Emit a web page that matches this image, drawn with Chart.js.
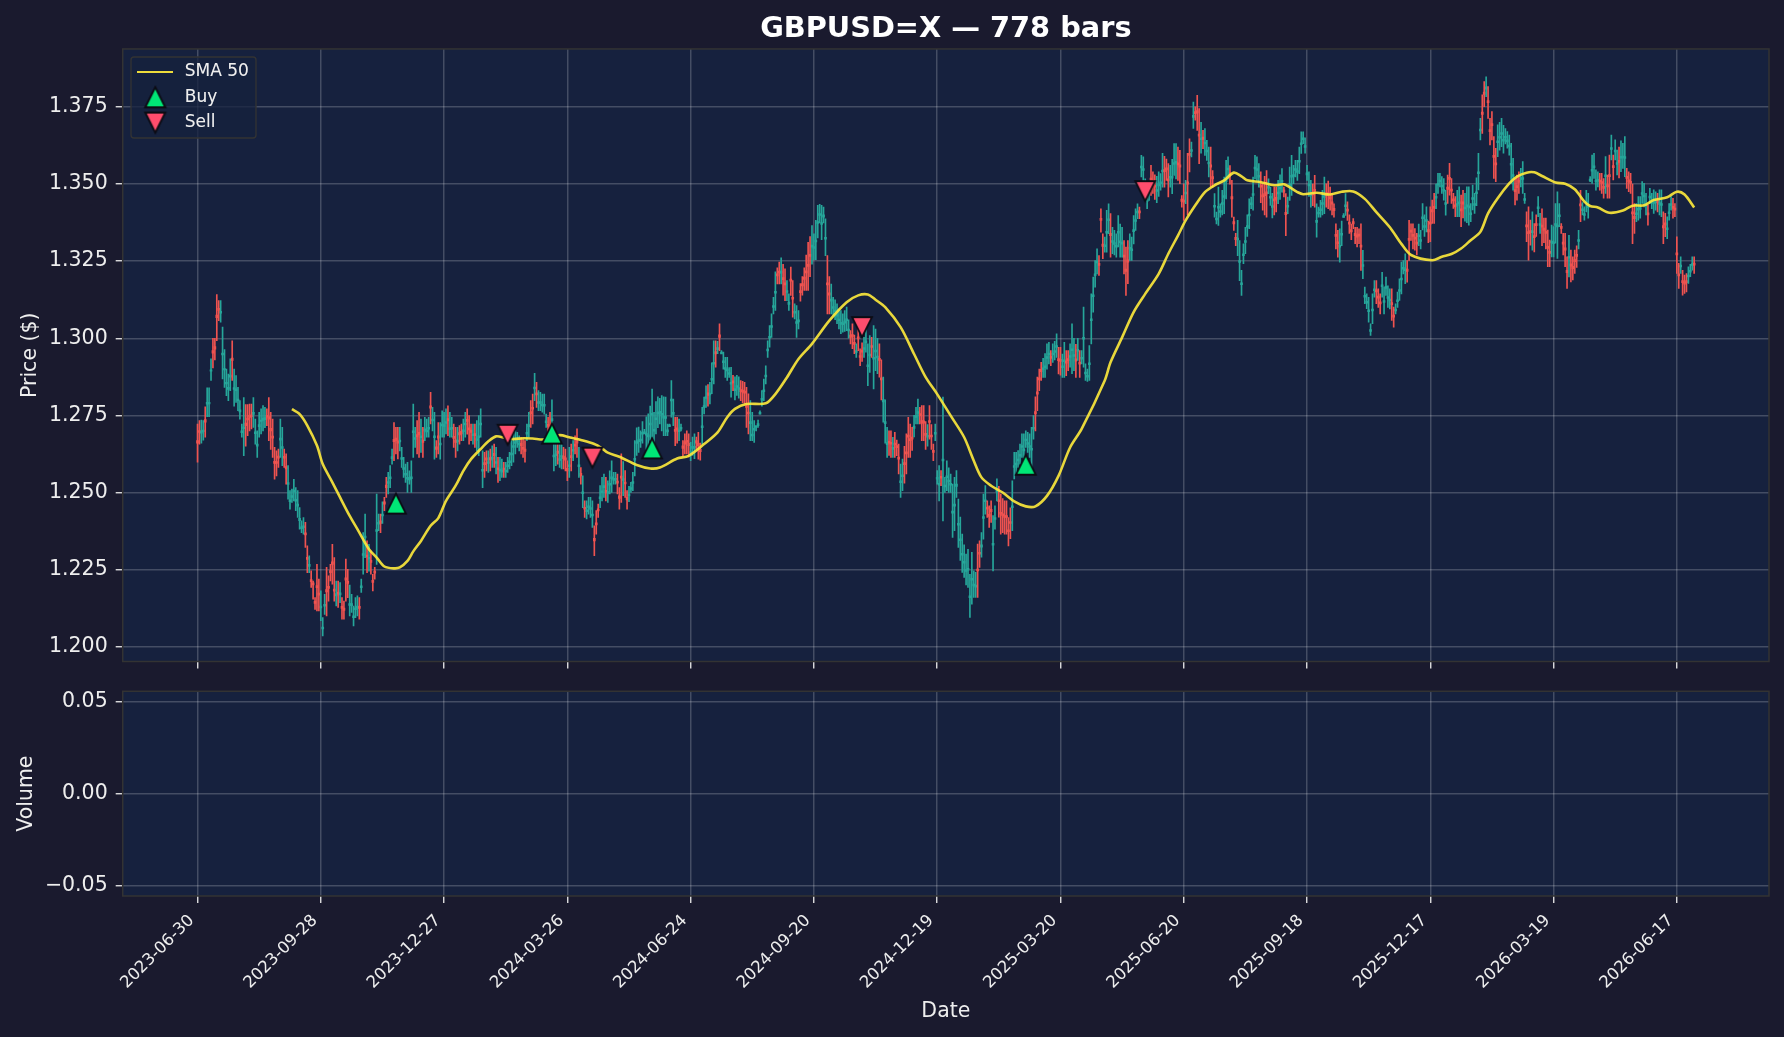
<!DOCTYPE html>
<html>
<head>
<meta charset="utf-8">
<title>GBPUSD=X</title>
<script src="https://cdn.jsdelivr.net/npm/chart.js@4"></script>
<style>
    html, body { margin: 0; padding: 0; background: #1a1a2e; }
    canvas { position: absolute; left: 0; }
    #chartPrice { top: 0; }
    #chartVolume { top: 671px; }
</style>
</head>
<body>
<canvas id="chartPrice" width="1784" height="690"></canvas>
<canvas id="chartVolume" width="1784" height="366"></canvas>
<script>
// prices are in 1/10000 of a dollar (pips)
const highs = [
12722,12733,12735,12733,12778,12839,12839,12933,13000,13000,13142,13122,13122,13036,12963,12900,12884,12933,12992,12900,
12879,12841,12798,12722,12808,12785,12785,12787,12787,12808,12738,12700,12760,12771,12782,12776,12771,12808,12760,12738,
12646,12635,12641,12738,12711,12641,12625,12587,12506,12511,12543,12516,12506,12451,12408,12419,12403,12327,12295,12246,
12213,12159,12267,12219,12181,12094,12170,12257,12230,12267,12332,12289,12213,12213,12208,12159,12148,12284,12251,12200,
12170,12132,12159,12165,12159,12219,12370,12430,12343,12332,12311,12235,12257,12495,12430,12430,12470,12484,12549,12565,
12587,12641,12727,12711,12711,12711,12646,12614,12592,12598,12570,12603,12787,12711,12733,12760,12738,12711,12744,12738,
12744,12825,12776,12760,12668,12727,12727,12765,12760,12771,12781,12760,12744,12722,12711,12711,12717,12722,12738,12760,
12771,12749,12722,12722,12722,12733,12749,12771,12635,12630,12635,12635,12641,12651,12657,12646,12614,12614,12608,12598,
12598,12614,12630,12668,12706,12700,12695,12684,12679,12673,12668,12722,12760,12798,12819,12886,12857,12830,12825,12819,
12819,12754,12744,12760,12800,12673,12668,12662,12657,12657,12646,12641,12603,12646,12657,12668,12684,12706,12646,12581,
12554,12473,12473,12484,12484,12473,12392,12441,12462,12522,12549,12560,12549,12538,12570,12603,12565,12565,12560,12516,
12625,12600,12571,12506,12520,12533,12565,12668,12710,12712,12700,12730,12705,12745,12755,12780,12835,12760,12795,12810,
12805,12814,12810,12809,12722,12722,12863,12803,12744,12744,12738,12722,12668,12690,12700,12690,12663,12680,12690,12680,
12695,12660,12776,12809,12846,12850,12857,12920,12992,12992,12990,13047,12960,12955,12938,12938,12905,12906,12880,12875,
12880,12875,12863,12860,12857,12841,12820,12798,12760,12733,12711,12735,12755,12830,12868,12911,12992,13041,13079,13133,
13215,13228,13247,13261,13240,13225,13187,13144,13231,13187,13112,13106,13090,13177,13200,13228,13270,13311,13330,13365,
13339,13382,13431,13434,13431,13425,13387,13268,13200,13176,13133,13125,13112,13095,13090,13079,13090,13101,13060,13025,
13047,13010,12982,13036,12966,12985,13003,13030,12982,13009,13003,13041,13030,13000,12982,12930,12874,12800,12711,12700,
12700,12679,12695,12670,12657,12592,12608,12650,12690,12744,12722,12711,12750,12776,12803,12776,12782,12782,12730,12720,
12782,12720,12657,12722,12571,12587,12571,12809,12549,12603,12580,12560,12527,12549,12571,12479,12420,12365,12330,12300,
12316,12235,12306,12246,12241,12333,12343,12370,12495,12522,12473,12457,12473,12425,12457,12544,12520,12495,12480,12473,
12473,12419,12450,12538,12630,12630,12636,12657,12690,12690,12700,12695,12690,12711,12749,12810,12874,12900,12922,12935,
12950,12982,12987,12960,12982,12990,13014,12971,12971,12949,12987,12960,12960,12982,13047,13000,12980,13000,12960,12960,
13101,12917,12900,12976,13144,13198,13252,13290,13268,13420,13339,13328,13415,13436,13404,13360,13350,13339,13398,13370,
13360,13317,13296,13317,13339,13328,13398,13420,13436,13425,13593,13588,13517,13480,13501,13561,13540,13530,13525,13540,
13534,13600,13590,13581,13566,13561,13580,13631,13631,13620,13609,13463,13500,13512,13600,13647,13636,13766,13750,13788,
13745,13700,13674,13680,13642,13620,13620,13544,13469,13409,13490,13436,13480,13523,13577,13588,13560,13512,13393,13340,
13382,13317,13220,13306,13360,13400,13452,13458,13523,13593,13588,13566,13540,13501,13525,13544,13517,13490,13470,13490,
13490,13512,13530,13550,13490,13469,13458,13555,13593,13561,13577,13577,13620,13669,13669,13650,13561,13540,13512,13500,
13528,13436,13425,13447,13480,13523,13501,13510,13490,13470,13436,13371,13350,13355,13380,13404,13469,13442,13400,13370,
13388,13360,13360,13355,13371,13285,13166,13144,13133,13047,13144,13187,13187,13160,13144,13214,13166,13198,13170,13160,
13160,13101,13112,13150,13193,13247,13252,13274,13252,13382,13371,13371,13356,13340,13370,13350,13437,13400,13426,13380,
13426,13448,13470,13500,13535,13535,13524,13518,13480,13529,13567,13518,13470,13459,13480,13491,13464,13480,13470,13491,
13491,13437,13497,13470,13520,13600,13713,13789,13832,13848,13816,13713,13735,13654,13616,13692,13700,13713,13690,13680,
13670,13659,13632,13583,13518,13529,13540,13551,13573,13470,13410,13426,13383,13410,13372,13400,13459,13405,13420,13390,
13390,13351,13318,13367,13362,13437,13475,13437,13372,13340,13340,13264,13334,13286,13264,13286,13300,13350,13480,13440,
13426,13480,13470,13524,13594,13600,13546,13540,13535,13535,13518,13589,13529,13594,13659,13594,13643,13610,13620,13640,
13632,13654,13551,13540,13535,13500,13437,13437,13459,13459,13508,13502,13470,13432,13486,13470,13481,13475,13470,13481,
13481,13410,13405,13394,13437,13459,13454,13437,13329,13243,13264,13220,13205,13210,13232,13240,13264,13264
];
const lows = [
12598,12657,12660,12670,12679,12746,12746,12863,12904,12930,12992,13057,13052,12868,12841,12814,12798,12830,12863,12780,
12792,12765,12738,12679,12619,12650,12684,12700,12706,12711,12657,12614,12679,12690,12700,12710,12717,12668,12640,12614,
12543,12554,12581,12614,12587,12581,12527,12478,12446,12468,12473,12441,12419,12381,12370,12365,12322,12240,12240,12192,
12154,12121,12116,12116,12084,12035,12105,12100,12148,12213,12203,12148,12132,12127,12143,12089,12089,12148,12159,12100,
12111,12067,12094,12100,12089,12176,12235,12289,12240,12245,12235,12181,12219,12267,12376,12370,12400,12441,12484,12495,
12516,12592,12603,12625,12609,12635,12581,12549,12533,12500,12527,12500,12614,12646,12625,12614,12630,12614,12668,12679,
12679,12722,12700,12608,12614,12625,12608,12679,12679,12690,12684,12679,12679,12646,12614,12635,12657,12668,12668,12679,
12689,12657,12668,12657,12646,12635,12619,12679,12516,12549,12570,12565,12570,12581,12581,12560,12533,12538,12549,12549,
12549,12565,12576,12587,12598,12625,12646,12635,12625,12614,12598,12668,12679,12711,12722,12798,12776,12765,12765,12760,
12754,12711,12684,12679,12679,12570,12587,12592,12581,12576,12576,12570,12538,12549,12570,12603,12625,12614,12549,12527,
12451,12419,12414,12430,12419,12387,12295,12365,12419,12451,12473,12484,12473,12468,12495,12500,12527,12527,12495,12446,
12468,12490,12484,12446,12470,12500,12506,12554,12620,12630,12646,12660,12690,12640,12620,12670,12679,12650,12690,12710,
12722,12700,12684,12684,12684,12717,12744,12717,12652,12660,12668,12700,12619,12625,12625,12615,12603,12620,12610,12640,
12608,12605,12657,12755,12776,12780,12787,12820,12852,12906,12950,12960,12950,12900,12873,12863,12873,12809,12830,12800,
12815,12806,12798,12790,12787,12711,12690,12668,12668,12662,12700,12711,12765,12780,12798,12852,12938,12971,13003,13079,
13090,13176,13176,13176,13140,13122,13122,13090,13139,13068,13063,13003,13030,13120,13140,13155,13155,13155,13200,13240,
13255,13255,13325,13374,13320,13374,13268,13079,13079,13079,13074,13060,13047,13030,13015,13020,13022,13025,13000,12982,
12966,12950,12938,12960,12911,12925,12938,12955,12846,12889,12938,12836,12895,12885,12874,12800,12728,12660,12614,12620,
12614,12614,12614,12619,12560,12484,12506,12530,12560,12614,12614,12636,12680,12722,12722,12722,12668,12668,12640,12650,
12673,12640,12603,12668,12527,12473,12522,12408,12500,12506,12500,12500,12354,12376,12484,12322,12280,12241,12225,12200,
12192,12095,12138,12160,12160,12160,12257,12290,12349,12430,12419,12387,12403,12246,12381,12473,12420,12365,12370,12365,
12365,12327,12350,12376,12544,12560,12581,12592,12614,12592,12646,12630,12614,12576,12673,12700,12765,12830,12863,12873,
12873,12900,12917,12911,12922,12930,12938,12884,12880,12873,12873,12879,12895,12906,12885,12895,12873,12928,12873,12917,
12906,12863,12860,12863,12982,13085,13166,13209,13204,13344,13258,13279,13279,13339,13263,13274,13270,13263,13296,13263,
13263,13209,13139,13177,13252,13252,13306,13350,13388,13388,13523,13512,13458,13420,13447,13463,13470,13450,13440,13460,
13480,13490,13490,13512,13458,13490,13469,13528,13517,13512,13501,13425,13382,13436,13400,13539,13588,13680,13707,13674,
13566,13600,13615,13593,13577,13523,13490,13490,13393,13371,13366,13393,13400,13404,13452,13517,13500,13393,13350,13300,
13268,13187,13139,13242,13274,13330,13355,13420,13415,13517,13512,13490,13440,13415,13400,13393,13469,13431,13390,13400,
13410,13436,13450,13474,13458,13333,13404,13447,13463,13501,13523,13512,13534,13599,13631,13600,13512,13460,13425,13430,
13425,13328,13393,13393,13400,13404,13425,13420,13415,13400,13393,13290,13263,13247,13300,13393,13398,13382,13340,13320,
13355,13307,13296,13307,13220,13193,13112,13096,13052,13009,13047,13133,13112,13100,13079,13133,13079,13139,13100,13095,
13058,13036,13079,13100,13123,13144,13209,13177,13182,13252,13317,13290,13286,13270,13300,13290,13351,13330,13345,13310,
13313,13372,13372,13420,13470,13491,13470,13448,13399,13437,13464,13437,13421,13394,13394,13394,13362,13390,13380,13375,
13367,13378,13416,13405,13430,13481,13643,13664,13751,13783,13713,13627,13643,13518,13508,13589,13610,13621,13600,13630,
13616,13594,13502,13480,13432,13448,13470,13491,13470,13437,13313,13253,13302,13286,13280,13330,13394,13340,13300,13310,
13290,13232,13232,13264,13264,13308,13259,13362,13340,13270,13232,13162,13199,13183,13189,13210,13230,13290,13378,13400,
13383,13410,13389,13508,13502,13518,13480,13491,13480,13470,13454,13470,13454,13454,13578,13513,13578,13530,13520,13540,
13551,13524,13486,13475,13470,13307,13340,13378,13383,13389,13437,13426,13400,13367,13437,13420,13405,13415,13410,13400,
13394,13307,13329,13323,13383,13415,13389,13394,13210,13162,13210,13140,13145,13150,13178,13200,13221,13210
];
const closes = [
12660,12695,12698,12702,12728,12792,12792,12898,12952,12965,13067,13090,13087,12952,12902,12857,12841,12881,12928,12840,
12836,12803,12768,12700,12713,12717,12735,12743,12746,12760,12697,12657,12720,12735,12741,12743,12744,12738,12700,12676,
12594,12594,12611,12676,12649,12611,12576,12532,12476,12490,12508,12478,12462,12416,12389,12392,12362,12283,12267,12211,
12200,12140,12191,12167,12132,12064,12137,12178,12189,12240,12267,12180,12172,12170,12175,12124,12118,12216,12205,12140,
12140,12100,12126,12132,12124,12197,12302,12359,12291,12290,12273,12208,12238,12380,12403,12400,12430,12462,12516,12535,
12551,12616,12665,12668,12660,12670,12613,12581,12562,12549,12548,12551,12700,12678,12680,12687,12684,12662,12706,12702,
12711,12773,12738,12684,12640,12676,12660,12722,12720,12730,12732,12710,12711,12675,12662,12670,12687,12690,12703,12725,
12730,12703,12695,12690,12684,12675,12684,12725,12575,12590,12605,12600,12605,12615,12619,12600,12574,12576,12573,12573,
12573,12590,12603,12628,12652,12665,12670,12660,12652,12640,12633,12695,12720,12755,12770,12842,12816,12795,12795,12787,
12786,12732,12714,12710,12740,12621,12625,12627,12610,12620,12610,12605,12570,12590,12613,12640,12650,12660,12590,12554,
12502,12446,12444,12457,12451,12430,12343,12395,12440,12486,12505,12522,12500,12503,12530,12551,12546,12546,12530,12481,
12546,12545,12528,12476,12495,12516,12535,12611,12665,12671,12673,12695,12697,12692,12687,12725,12757,12705,12742,12760,
12763,12757,12747,12746,12703,12719,12803,12760,12698,12702,12703,12711,12643,12657,12662,12652,12633,12650,12650,12660,
12651,12632,12716,12782,12811,12815,12822,12870,12922,12949,12970,13003,12955,12927,12905,12900,12889,12857,12855,12837,
12847,12840,12827,12825,12822,12776,12755,12730,12689,12708,12717,12723,12760,12805,12833,12881,12965,13006,13041,13106,
13152,13202,13211,13218,13190,13173,13155,13117,13185,13127,13087,13054,13060,13148,13170,13191,13212,13233,13265,13302,
13297,13318,13378,13404,13375,13400,13327,13173,13140,13127,13103,13092,13079,13062,13052,13050,13056,13063,13030,13003,
13006,12980,12960,12998,12938,12955,12970,12992,12914,12949,12970,12938,12962,12942,12928,12865,12801,12730,12662,12660,
12657,12646,12654,12645,12608,12538,12557,12590,12625,12679,12668,12673,12715,12749,12762,12749,12725,12725,12685,12685,
12727,12680,12630,12695,12549,12530,12546,12608,12524,12554,12540,12530,12440,12462,12527,12400,12350,12303,12277,12250,
12254,12165,12222,12203,12200,12246,12300,12330,12422,12476,12446,12422,12438,12335,12419,12508,12470,12430,12425,12419,
12419,12373,12400,12457,12587,12595,12608,12624,12652,12641,12673,12662,12652,12643,12711,12755,12819,12865,12892,12904,
12911,12941,12952,12935,12952,12960,12976,12927,12925,12911,12930,12919,12927,12944,12966,12947,12926,12964,12916,12938,
13003,12890,12880,12920,13063,13141,13209,13250,13236,13382,13298,13303,13347,13387,13333,13317,13310,13301,13347,13316,
13311,13263,13217,13247,13295,13290,13352,13385,13412,13406,13558,13550,13487,13450,13474,13512,13505,13490,13482,13500,
13507,13545,13540,13546,13510,13525,13525,13570,13574,13562,13555,13444,13441,13474,13500,13593,13612,13723,13728,13731,
13655,13650,13645,13636,13610,13571,13555,13517,13431,13390,13428,13414,13440,13463,13515,13552,13530,13452,13371,13320,
13325,13252,13180,13274,13317,13365,13403,13439,13469,13555,13550,13528,13490,13458,13462,13468,13493,13460,13430,13445,
13450,13474,13490,13512,13474,13401,13431,13501,13528,13531,13550,13544,13577,13634,13650,13625,13536,13500,13468,13465,
13476,13382,13409,13420,13440,13463,13463,13465,13452,13435,13414,13330,13306,13301,13340,13398,13433,13412,13370,13345,
13371,13333,13328,13331,13295,13239,13139,13120,13092,13028,13095,13160,13150,13130,13111,13173,13122,13168,13135,13127,
13109,13068,13095,13125,13158,13195,13230,13225,13217,13317,13344,13330,13321,13305,13335,13320,13394,13365,13385,13345,
13370,13410,13421,13460,13502,13513,13497,13483,13440,13483,13515,13477,13445,13426,13437,13442,13413,13435,13425,13433,
13429,13407,13456,13437,13475,13540,13678,13726,13791,13815,13764,13670,13689,13586,13562,13640,13655,13667,13645,13655,
13643,13626,13567,13531,13475,13488,13505,13521,13521,13453,13361,13339,13342,13348,13326,13365,13426,13372,13360,13350,
13340,13291,13275,13315,13313,13372,13367,13400,13356,13305,13286,13213,13266,13234,13226,13248,13265,13320,13429,13420,
13404,13445,13430,13516,13548,13559,13513,13515,13507,13502,13486,13530,13491,13524,13618,13553,13610,13570,13570,13590,
13591,13589,13518,13507,13502,13403,13388,13407,13421,13424,13472,13464,13435,13400,13461,13445,13443,13445,13440,13440,
13437,13358,13367,13358,13410,13437,13421,13415,13270,13202,13237,13180,13175,13180,13205,13220,13242,13237
];
const opens = [
12668,12701,12692,12697,12736,12786,12787,12893,12960,12973,13075,13097,13081,12946,12897,12852,12834,12874,12936,12834,
12830,12798,12761,12694,12707,12725,12741,12750,12752,12753,12691,12650,12713,12730,12734,12736,12750,12746,12708,12683,
12601,12600,12618,12670,12643,12617,12584,12526,12470,12484,12502,12472,12456,12409,12383,12386,12369,12290,12260,12218,
12207,12147,12198,12174,12126,12058,12131,12185,12196,12247,12275,12187,12165,12177,12168,12131,12125,12223,12212,12134,
12133,12094,12120,12126,12131,12191,12296,12353,12297,12284,12280,12215,12245,12374,12397,12408,12424,12470,12524,12529,
12545,12610,12672,12676,12667,12664,12607,12575,12556,12543,12541,12545,12694,12672,12688,12695,12678,12670,12699,12696,
12705,12781,12732,12678,12648,12684,12654,12716,12714,12724,12740,12704,12705,12682,12670,12664,12694,12698,12697,12719,
12737,12710,12702,12684,12691,12669,12678,12719,12569,12597,12612,12594,12613,12608,12627,12594,12580,12570,12566,12579,
12567,12584,12597,12622,12646,12659,12664,12654,12659,12646,12641,12689,12713,12762,12776,12836,12823,12789,12789,12781,
12780,12726,12721,12717,12733,12615,12619,12634,12604,12614,12618,12612,12578,12584,12620,12634,12657,12668,12584,12562,
12496,12452,12438,12451,12445,12424,12351,12402,12447,12480,12499,12516,12507,12497,12524,12545,12540,12540,12537,12489,
12553,12539,12534,12484,12489,12510,12529,12605,12659,12665,12667,12689,12691,12686,12680,12719,12751,12699,12736,12754,
12757,12751,12741,12740,12696,12713,12797,12753,12705,12710,12697,12705,12651,12665,12669,12659,12627,12643,12644,12668,
12659,12640,12710,12776,12805,12823,12816,12864,12916,12957,12963,13011,12949,12921,12899,12894,12883,12851,12862,12830,
12841,12834,12834,12832,12829,12782,12761,12723,12683,12702,12711,12717,12754,12799,12827,12875,12959,13000,13035,13100,
13146,13209,13218,13211,13197,13180,13149,13110,13192,13133,13081,13048,13053,13155,13177,13198,13219,13240,13272,13295,
13291,13312,13372,13398,13369,13393,13321,13180,13147,13120,13097,13086,13072,13056,13046,13044,13049,13057,13024,13010,
13012,12987,12954,13005,12944,12962,12964,12986,12908,12943,12976,12932,12956,12936,12935,12872,12794,12723,12655,12666,
12663,12640,12660,12652,12615,12532,12551,12597,12632,12686,12675,12680,12708,12743,12756,12756,12733,12732,12692,12679,
12733,12686,12637,12689,12543,12524,12552,12602,12518,12548,12534,12524,12433,12456,12520,12394,12344,12297,12271,12244,
12248,12159,12216,12197,12193,12252,12306,12323,12416,12470,12453,12429,12445,12329,12413,12502,12476,12436,12431,12425,
12425,12379,12406,12451,12581,12589,12602,12618,12646,12635,12667,12656,12646,12637,12705,12762,12826,12872,12899,12898,
12905,12935,12946,12942,12946,12954,12970,12934,12932,12905,12924,12926,12934,12938,12960,12941,12933,12958,12923,12932,
12997,12884,12874,12914,13057,13135,13203,13244,13243,13389,13305,13297,13341,13381,13340,13311,13304,13295,13341,13310,
13305,13270,13224,13254,13289,13284,13346,13379,13406,13413,13552,13544,13481,13444,13468,13519,13512,13497,13476,13494,
13501,13539,13547,13553,13517,13519,13519,13564,13568,13569,13562,13451,13448,13468,13507,13600,13606,13716,13735,13738,
13662,13644,13652,13630,13604,13565,13562,13524,13425,13384,13422,13408,13434,13457,13508,13546,13537,13459,13378,13327,
13319,13246,13174,13268,13311,13359,13397,13433,13463,13549,13544,13522,13497,13465,13469,13475,13487,13454,13424,13452,
13457,13468,13484,13506,13481,13408,13425,13495,13522,13525,13544,13538,13571,13628,13644,13619,13530,13494,13462,13472,
13483,13376,13403,13414,13434,13457,13470,13472,13459,13442,13421,13337,13313,13295,13334,13392,13427,13419,13377,13352,
13378,13340,13335,13338,13302,13233,13133,13114,13086,13022,13089,13154,13157,13137,13118,13167,13116,13162,13129,13121,
13116,13075,13089,13119,13152,13189,13224,13219,13224,13324,13351,13337,13328,13312,13329,13314,13388,13359,13379,13352,
13377,13417,13428,13454,13496,13507,13491,13477,13434,13490,13522,13484,13452,13433,13431,13436,13420,13442,13419,13427,
13423,13401,13450,13431,13469,13534,13672,13733,13798,13808,13771,13677,13696,13593,13569,13634,13649,13661,13639,13649,
13637,13620,13561,13525,13482,13495,13512,13515,13515,13447,13368,13346,13349,13342,13333,13372,13420,13366,13367,13357,
13347,13298,13282,13309,13307,13366,13361,13394,13363,13312,13293,13220,13260,13241,13233,13255,13272,13314,13436,13414,
13398,13439,13424,13510,13542,13553,13507,13509,13513,13508,13493,13524,13498,13531,13612,13560,13604,13564,13577,13584,
13585,13583,13525,13514,13509,13410,13395,13401,13415,13418,13466,13458,13429,13407,13455,13439,13437,13439,13447,13434,
13431,13365,13374,13352,13404,13431,13428,13422,13277,13209,13231,13187,13182,13187,13199,13214,13236,13244
];

const smaBars = [49,53,57,62,65,70,74,79,83,89,93,97,102,105,109,112,116,121,125,129,134,138,142,147,151,155,160,164,169,174,180,188,193,199,206,210,213,219,228,235,240,249,255,263,270,275,279,285,295,300,306,312,319,328,337,343,348,352,357,365,372,378,384,391,398,403,407,412,418,424,430,435,441,447,453,459,471,474,480,486,492,499,504,509,513,518,523,528,533,538,542,545,552,559,564,571,574,581,588,594,600,606,612,619,625,630,641,646,651,656,661,666,670,675,681,685,690,694,698,705,710,715,720,723,727,733,740,745,751,756,763,768,772,777];
const smaValues = [12770,12754,12717,12652,12592,12533,12484,12424,12381,12316,12289,12260,12254,12257,12278,12309,12343,12392,12417,12473,12522,12570,12608,12641,12666,12682,12676,12673,12676,12675,12672,12686,12679,12670,12657,12643,12629,12616,12589,12578,12581,12610,12619,12657,12695,12744,12771,12787,12789,12819,12873,12933,12982,13057,13117,13139,13142,13125,13101,13036,12949,12874,12819,12749,12679,12603,12549,12522,12500,12471,12455,12455,12489,12554,12646,12706,12863,12922,13003,13085,13144,13209,13274,13333,13382,13431,13474,13496,13512,13537,13525,13512,13506,13496,13499,13474,13467,13472,13466,13475,13476,13452,13409,13360,13306,13270,13253,13264,13273,13291,13318,13345,13405,13454,13502,13524,13537,13538,13526,13505,13501,13483,13443,13429,13424,13407,13414,13430,13431,13448,13457,13475,13466,13424];

const buyBars = [103,184,236,430];
const buyPrices = [12464,12691,12643,12590];
const sellBars = [161,205,345,492];
const sellPrices = [12687,12613,13036,13477];

const tickBars = [0,64,128,192,256,320,384,448,512,576,640,704,768];
const tickDates = ["2023-06-30","2023-09-28","2023-12-27","2024-03-26","2024-06-24","2024-09-20","2024-12-19","2025-03-20","2025-06-20","2025-09-18","2025-12-17","2026-03-19","2026-06-17"];
const priceTicks = [1.2,1.225,1.25,1.275,1.3,1.325,1.35,1.375];
const volumeTicks = [-0.05,0,0.05];

const textColor = "#eeeeee";
const gridColor = "rgba(255,255,255,0.2)";
const font = "'DejaVu Sans'";

function triangleSprite(color, down) {
    const c = document.createElement("canvas");
    c.width = 28; c.height = 28;
    const ctx = c.getContext("2d");
    const top = down ? 24 : 4, base = down ? 4 : 24;
    ctx.beginPath();
    ctx.moveTo(14, top);
    ctx.lineTo(24, base);
    ctx.lineTo(4, base);
    ctx.closePath();
    ctx.fillStyle = color;
    ctx.fill();
    ctx.lineWidth = 1.8;
    ctx.strokeStyle = "#0c0c14";
    ctx.stroke();
    return c;
}

function lineSprite(color) {
    const c = document.createElement("canvas");
    c.width = 36; c.height = 4;
    const ctx = c.getContext("2d");
    ctx.fillStyle = color;
    ctx.fillRect(0, 1, 36, 2);
    return c;
}

const buySprite = triangleSprite("#00e676", false);
const sellSprite = triangleSprite("#ff4d6d", true);
const smaColor = "rgba(255,235,59,0.9)";

const panelPlugin = {
    id: "panel",
    beforeDraw(chart) {
        const a = chart.chartArea;
        chart.ctx.fillStyle = "#16213e";
        chart.ctx.fillRect(a.left, a.top, a.right - a.left, a.bottom - a.top);
    },
    afterDraw(chart) {
        const a = chart.chartArea;
        chart.ctx.strokeStyle = "#333333";
        chart.ctx.lineWidth = 1.5;
        chart.ctx.strokeRect(a.left, a.top, a.right - a.left, a.bottom - a.top);
    }
};

// legend box sits over the grid but under the lines
const legendBoxPlugin = {
    id: "legendBox",
    afterLayout(chart) {
        chart.legend.left = 126;
        chart.legend.top = 55.2;
    },
    beforeDatasetsDraw(chart) {
        const ctx = chart.ctx;
        ctx.save();
        ctx.beginPath();
        ctx.roundRect(131, 57, 125, 81, 3);
        ctx.fillStyle = "rgba(22,33,62,0.75)";
        ctx.fill();
        ctx.strokeStyle = "#333333";
        ctx.lineWidth = 1.3;
        ctx.stroke();
        ctx.restore();
        chart.legend.draw();
    }
};

function xScale(showLabels) {
    return {
        type: "linear",
        min: -38.85,
        max: 815.85,
        offset: false,
        afterBuildTicks: scale => { scale.ticks = tickBars.map(v => ({ value: v })); },
        grid: { offset: false, color: gridColor, lineWidth: 1.5, tickColor: "#eeeeee", tickWidth: 1.3, tickLength: 7 },
        border: { display: false },
        ticks: {
            display: showLabels,
            autoSkip: false,
            maxRotation: 45,
            minRotation: 45,
            color: textColor,
            padding: 8,
            labelOffset: -6,
            font: { family: font, size: 16.5 },
            callback: (value, index) => tickDates[index]
        }
    };
}

new Chart(document.getElementById("chartPrice"), {
    data: {
        datasets: [
            {
                type: "bar",
                label: "wick",
                data: highs.map((h, i) => ({ x: i, y: [lows[i] / 10000, h / 10000] })),
                backgroundColor: closes.map((c, i) => c >= opens[i] ? "#26a69a" : "#ef5350"),
                barThickness: 1,
                grouped: false,
                order: 3
            },
            {
                type: "bar",
                label: "body",
                data: closes.map((c, i) => ({ x: i, y: [opens[i] / 10000, c / 10000] })),
                backgroundColor: closes.map((c, i) => c >= opens[i] ? "#26a69a" : "#ef5350"),
                barThickness: 2,
                grouped: false,
                order: 3
            },
            {
                type: "line",
                label: "SMA 50",
                data: smaBars.map((b, i) => ({ x: b, y: smaValues[i] / 10000 })),
                borderColor: smaColor,
                borderWidth: 2.6,
                pointRadius: 0,
                tension: 0.3,
                order: 2
            },
            {
                type: "scatter",
                label: "Buy",
                data: buyBars.map((b, i) => ({ x: b, y: buyPrices[i] / 10000 })),
                pointStyle: buySprite,
                order: 1
            },
            {
                type: "scatter",
                label: "Sell",
                data: sellBars.map((b, i) => ({ x: b, y: sellPrices[i] / 10000 })),
                pointStyle: sellSprite,
                order: 1
            }
        ]
    },
    options: {
        responsive: false,
        animation: false,
        layout: { padding: { top: 0, right: 15 } },
        scales: {
            x: Object.assign(xScale(false), { afterFit: scale => { scale.height = 28.5; } }),
            y: {
                min: 1.1952,
                max: 1.3938,
                afterFit: scale => { scale.width = 122.7; },
                afterBuildTicks: scale => { scale.ticks = priceTicks.map(v => ({ value: v })); },
                grid: { color: gridColor, lineWidth: 1.5, tickColor: "#eeeeee", tickWidth: 1.3, tickLength: 7 },
                border: { display: false },
                title: { display: true, text: "Price ($)", color: textColor, padding: { top: 18, bottom: 0 }, font: { family: font, size: 20.5 } },
                ticks: { color: textColor, padding: 8, font: { family: font, size: 20.5 }, callback: v => v.toFixed(3) }
            }
        },
        plugins: {
            tooltip: { enabled: false },
            title: {
                display: true,
                text: "GBPUSD=X — 778 bars",
                color: "#ffffff",
                font: { family: font, size: 28.8, weight: "bold" },
                padding: { top: 12, bottom: 2.4 },
                fullSize: false
            },
            legend: {
                position: "chartArea",
                align: "start",
                labels: {
                    color: textColor,
                    usePointStyle: true,
                    pointStyleWidth: 42,
                    padding: 8.3,
                    font: { family: font, size: 17 },
                    generateLabels: () => [
                        { text: "SMA 50", pointStyle: lineSprite(smaColor), fontColor: textColor, strokeStyle: "transparent", lineWidth: 0 },
                        { text: "Buy", pointStyle: buySprite, fontColor: textColor, strokeStyle: "transparent", lineWidth: 0 },
                        { text: "Sell", pointStyle: sellSprite, fontColor: textColor, strokeStyle: "transparent", lineWidth: 0 }
                    ]
                }
            }
        }
    },
    plugins: [panelPlugin, legendBoxPlugin]
});

// FX feed has no volume, every bar is zero
const volumes = closes.map(() => 0);

new Chart(document.getElementById("chartVolume"), {
    data: {
        datasets: [{
            type: "bar",
            label: "Volume",
            data: volumes.map((v, i) => ({ x: i, y: v })),
            backgroundColor: "transparent",
            barThickness: 1
        }]
    },
    options: {
        responsive: false,
        animation: false,
        layout: { padding: { top: 1, right: 15 } },
        scales: {
            x: Object.assign(xScale(true), {
                afterFit: scale => { scale.height = 141; },
                title: { display: true, text: "Date", color: textColor, padding: { top: 0, bottom: 13.5 }, font: { family: font, size: 20.5 } }
            }),
            y: {
                min: -0.0554,
                max: 0.0554,
                afterFit: scale => { scale.width = 122.7; },
                afterBuildTicks: scale => { scale.ticks = volumeTicks.map(v => ({ value: v })); },
                grid: { color: gridColor, lineWidth: 1.5, tickColor: "#eeeeee", tickWidth: 1.3, tickLength: 7 },
                border: { display: false },
                title: { display: true, text: "Volume", color: textColor, padding: { top: 14.5, bottom: 0 }, font: { family: font, size: 20.5 } },
                ticks: { color: textColor, padding: 8, font: { family: font, size: 20.5 }, callback: v => v.toFixed(2).replace("-", "\u2212") }
            }
        },
        plugins: { tooltip: { enabled: false }, legend: { display: false } }
    },
    plugins: [panelPlugin]
});
</script>
</body>
</html>
